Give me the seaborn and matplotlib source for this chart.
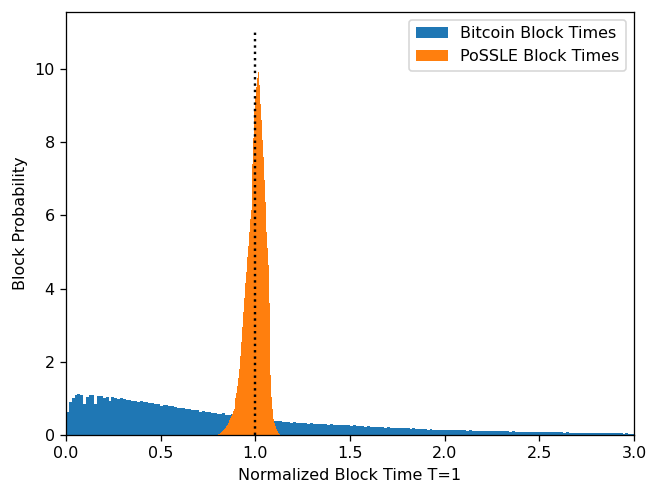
import numpy as np
import matplotlib
matplotlib.use("Agg")
import matplotlib.pyplot as plt
import seaborn as sns

# --- data ---
# Bitcoin: normalized density per bin, bins of width 0.015 starting at 0.0
btc_start, btc_width = 0.0, 0.015
btc_heights = [
    0.62, 0.90, 1.00, 1.08, 1.13, 1.10, 0.86, 1.05, 1.08, 1.10,
    0.86, 1.07, 1.06, 1.02, 1.04, 0.92, 1.03, 1.01, 0.99, 1.00,
    0.97, 0.95, 0.96, 0.93, 0.94, 0.90, 0.93, 0.91, 0.89, 0.88,
    0.87, 0.85, 0.86, 0.80, 0.83, 0.81, 0.79, 0.78, 0.77, 0.74,
    0.75, 0.73, 0.71, 0.72, 0.68, 0.69, 0.67, 0.64, 0.66, 0.63,
    0.62, 0.60, 0.61, 0.58, 0.57, 0.59, 0.55, 0.54, 0.56, 0.52,
    0.51, 0.50, 0.48, 0.49, 0.46, 0.47, 0.45, 0.44, 0.43, 0.42,
    0.41, 0.40, 0.39, 0.38, 0.37, 0.38, 0.35, 0.36, 0.35, 0.34,
    0.35, 0.33, 0.34, 0.32, 0.33, 0.31, 0.32, 0.30, 0.31, 0.30,
    0.29, 0.30, 0.28, 0.29, 0.27, 0.28, 0.26, 0.27, 0.26, 0.27,
    0.25, 0.26, 0.24, 0.25, 0.24, 0.23, 0.24, 0.22, 0.23, 0.22,
    0.21, 0.22, 0.20, 0.21, 0.20, 0.19, 0.20, 0.19, 0.18, 0.19,
    0.18, 0.17, 0.18, 0.16, 0.17, 0.16, 0.16, 0.15, 0.16, 0.15,
    0.15, 0.14, 0.15, 0.14, 0.14, 0.13, 0.14, 0.13, 0.14, 0.13,
    0.13, 0.12, 0.13, 0.12, 0.12, 0.12, 0.11, 0.12, 0.11, 0.11,
    0.11, 0.10, 0.11, 0.10, 0.10, 0.10, 0.09, 0.10, 0.09, 0.09,
    0.09, 0.09, 0.08, 0.09, 0.08, 0.08, 0.08, 0.08, 0.07, 0.08,
    0.07, 0.07, 0.07, 0.07, 0.07, 0.06, 0.07, 0.06, 0.06, 0.06,
    0.06, 0.06, 0.06, 0.06, 0.05, 0.06, 0.05, 0.05, 0.05, 0.05,
    0.05, 0.05, 0.05, 0.05, 0.05, 0.05, 0.04, 0.05, 0.04, 0.04,
]

# PoSSLE: normalized density per bin, bins of width 0.005 starting at 0.80
pos_start, pos_width = 0.80, 0.005
pos_heights = [
    0.01, 0.02, 0.04, 0.06, 0.08, 0.10, 0.13, 0.16, 0.20, 0.24,
    0.28, 0.33, 0.40, 0.46, 0.52, 0.58, 0.65, 0.72, 0.85, 1.00,
    1.15, 1.35, 1.55, 1.80, 2.15, 2.55, 2.95, 3.35, 3.75, 4.15,
    4.45, 4.85, 5.15, 5.55, 5.90, 6.15, 6.55, 7.40, 8.10, 8.90,
    9.25, 9.50, 9.75, 9.90, 9.55, 9.05, 8.60, 8.05, 7.60, 6.95,
    6.35, 5.55, 5.10, 4.65, 3.60, 2.40, 1.65, 1.05, 0.70, 0.45,
    0.33, 0.24, 0.16, 0.10, 0.06, 0.03,
]

target_time = 1.0
line_top = 11.0


def bins_for(start, width, n):
    edges = start + width * np.arange(n + 1)
    centers = edges[:-1] + width / 2
    # seaborn compares bins against "auto", so hand it a plain list
    return edges.tolist(), centers


btc_edges, btc_centers = bins_for(btc_start, btc_width, len(btc_heights))
pos_edges, pos_centers = bins_for(pos_start, pos_width, len(pos_heights))

# the reference looks rendered at ~115 dpi, so text and lines run a bit larger
DPI = 115
fig, ax = plt.subplots(figsize=(646 / DPI, 483 / DPI), dpi=DPI)

sns.histplot(x=btc_centers, weights=btc_heights, bins=btc_edges, stat="count",
             color="#1f77b4", alpha=1, linewidth=0, ax=ax,
             label="Bitcoin Block Times")
sns.histplot(x=pos_centers, weights=pos_heights, bins=pos_edges, stat="count",
             color="#ff7f0e", alpha=1, linewidth=0, ax=ax,
             label="PoSSLE Block Times")

ax.vlines(target_time, 0, line_top, colors="black", linestyles=":", linewidth=1.5)

ax.set_xlim(0, 3)
ax.set_ylim(0, line_top * 1.05)
ax.set_xlabel("Normalized Block Time T=1")
ax.set_ylabel("Block Probability")
ax.legend(loc="upper right")

fig.subplots_adjust(left=66 / 646, right=634 / 646, top=1 - 12 / 483, bottom=1 - 435 / 483)
plt.savefig("out.png", dpi=DPI)
